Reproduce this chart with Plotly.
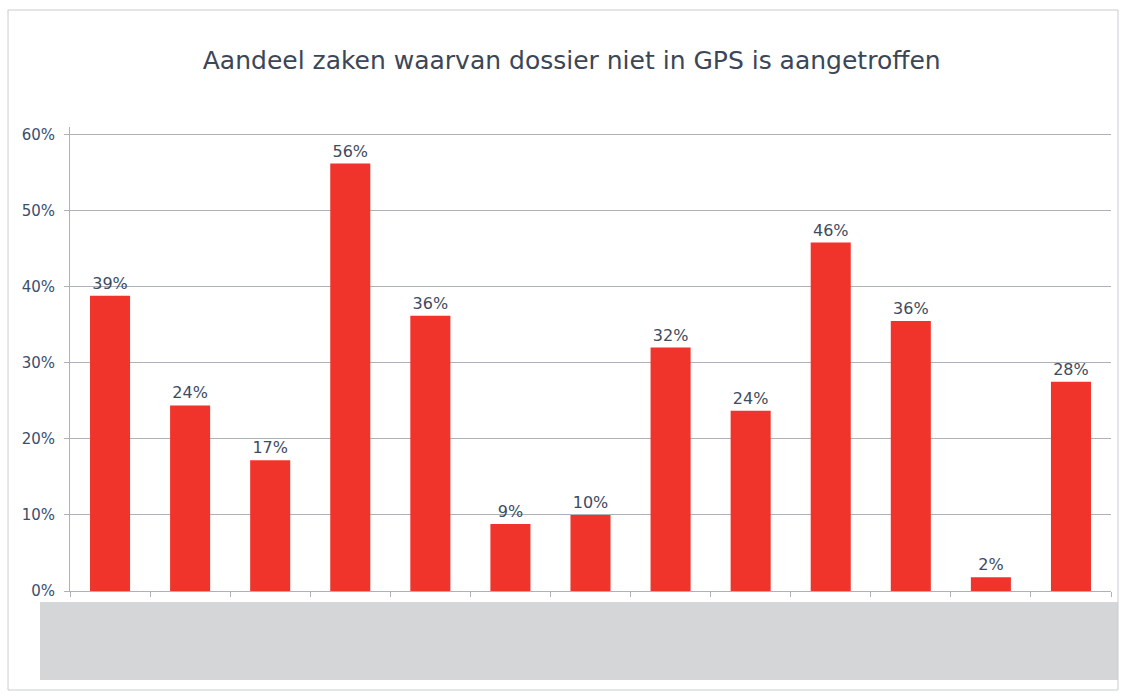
import plotly.graph_objects as go

categories = [f"c{i}" for i in range(1, 14)]
values = [38.8, 24.4, 17.2, 56.2, 36.2, 8.8, 10.0, 32.0, 23.7, 45.8, 35.5, 1.8, 27.5]
labels = ["39%", "24%", "17%", "56%", "36%", "9%", "10%", "32%", "24%", "46%", "36%", "2%", "28%"]
y_ticks = [0, 10, 20, 30, 40, 50, 60]
y_ticklabels = ["0%", "10%", "20%", "30%", "40%", "50%", "60%"]

W, H = 1121, 693
L, R, T, B = 70, 10, 127, 102
pw, ph = W - L - R, H - T - B

def px(x):
    return (x - L) / pw

def py(y):
    return (H - B - y) / ph

fig = go.Figure()
fig.add_trace(go.Bar(
    x=categories, y=values, text=labels, textposition="outside",
    marker=dict(color="#f0332b", line=dict(width=0)),
    textfont=dict(family="DejaVu Sans", size=16, color="#3d4b60"),
    cliponaxis=False,
))

fig.update_layout(
    width=W, height=H,
    margin=dict(l=L, r=R, t=T, b=B),
    paper_bgcolor="white", plot_bgcolor="white",
    bargap=0.5, showlegend=False,
    title=dict(text="Aandeel zaken waarvan dossier niet in GPS is aangetroffen",
               x=0.51, xanchor="center", y=1 - 60 / H, yanchor="middle",
               font=dict(family="DejaVu Sans", size=25, color="#3b4656")),
    font=dict(family="DejaVu Sans"),
)
fig.update_yaxes(range=[0, 61], tickvals=y_ticks, ticktext=y_ticklabels,
                 showgrid=True, gridcolor="#aeb1ba", gridwidth=1,
                 showline=True, linecolor="#aeb1ba", linewidth=1,
                 ticks="outside", ticklen=5, tickcolor="#aeb1ba",
                 ticklabelstandoff=6,
                 tickfont=dict(family="DejaVu Sans", size=15, color="#3a4e6e"),
                 zeroline=False)
fig.update_xaxes(showticklabels=False, showline=True, linecolor="#aeb1ba",
                 linewidth=1, ticks="outside", ticklen=5, tickcolor="#aeb1ba",
                 tickson="boundaries", showgrid=False)

fig.add_shape(type="rect", xref="paper", yref="paper",
              x0=px(40), x1=px(1118), y0=py(602), y1=py(680),
              fillcolor="#d5d6d8", line=dict(width=0), layer="above")
fig.add_shape(type="rect", xref="paper", yref="paper",
              x0=px(8), x1=px(1118), y0=py(10), y1=py(690),
              fillcolor="rgba(0,0,0,0)", line=dict(color="#c8ccd4", width=1))

fig.write_html("out.html", config={"displayModeBar": False},
               post_script="document.body.style.margin='0';document.body.style.padding='0';")
